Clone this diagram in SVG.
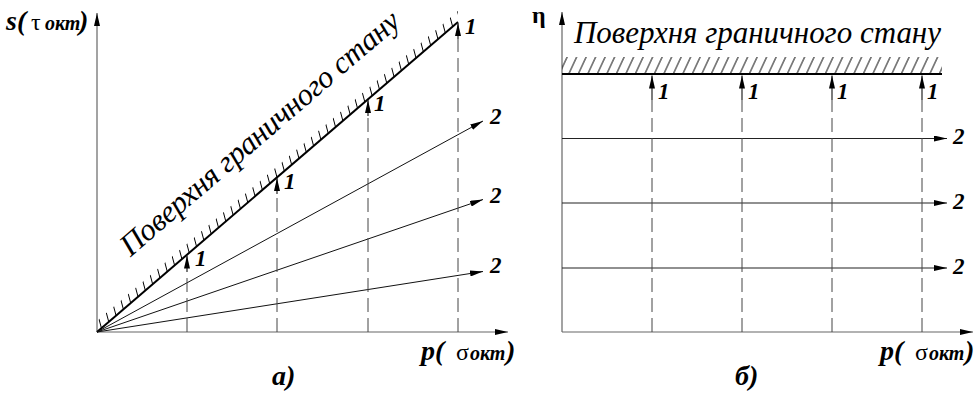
<svg xmlns="http://www.w3.org/2000/svg" width="979" height="396" viewBox="0 0 979 396">
<style>
.ax{stroke:#666;stroke-width:1.2;fill:none}
.bd{stroke:#000;stroke-width:2;fill:none}
.ray{stroke:#111;stroke-width:1;fill:none}
.dash{stroke:#444;stroke-width:1;fill:none;stroke-dasharray:14 6}
.sol{stroke:#222;stroke-width:1.2;fill:none}
text{font-family:'Liberation Serif','Times New Roman',serif;fill:#000}
.num{font-weight:bold;font-style:italic;font-size:23px}
.lbl{font-weight:bold;font-style:italic;font-size:28px}
.sym{font-weight:normal;font-style:normal;font-size:24px}
.sub{font-size:20px}
.surf{font-style:italic;font-size:31px}
</style>
<defs>
<marker id="ah" markerUnits="userSpaceOnUse" markerWidth="13" markerHeight="6" refX="13" refY="3" orient="auto">
<path d="M0,0 L13,3 L0,6 z" fill="#000"/>
</marker>
<pattern id="hatchA" width="9" height="30" patternUnits="userSpaceOnUse" patternTransform="skewX(15)">
<line x1="4.5" y1="-1" x2="4.5" y2="31" stroke="#000" stroke-width="1"/>
</pattern>
<pattern id="hatchB" width="9.5" height="30" patternUnits="userSpaceOnUse" patternTransform="skewX(-25)">
<line x1="4.75" y1="-1" x2="4.75" y2="31" stroke="#000" stroke-width="1"/>
</pattern>
</defs>

<g id="panel-a">
<g id="axes-a">
<line class="ax" x1="97" y1="332" x2="97" y2="13" marker-end="url(#ah)"/>
<line class="ax" x1="97" y1="332" x2="508" y2="332" marker-end="url(#ah)"/>
</g>
<g id="surface-a">
<polygon points="97,332 458,22 458,11 97,321" fill="url(#hatchA)"/>
<line class="bd" x1="97" y1="332" x2="458" y2="22"/>
<text class="surf" transform="translate(130.4,257.2) rotate(-40.66)" textLength="358" lengthAdjust="spacing">Поверхня граничного стану</text>
</g>
<g id="connectors-a">
<line class="ray" x1="97" y1="332" x2="483" y2="121" marker-end="url(#ah)"/>
<line class="ray" x1="97" y1="332" x2="483" y2="199.5" marker-end="url(#ah)"/>
<line class="ray" x1="97" y1="332" x2="483" y2="271.5" marker-end="url(#ah)"/>
<line class="dash" x1="187" y1="332" x2="187" y2="272"/>
<line class="sol" x1="187" y1="272" x2="187" y2="255.5" marker-end="url(#ah)"/>
<line class="dash" x1="277" y1="332" x2="277" y2="194"/>
<line class="sol" x1="277" y1="194" x2="277" y2="178" marker-end="url(#ah)"/>
<line class="dash" x1="368" y1="332" x2="368" y2="116"/>
<line class="sol" x1="368" y1="116" x2="368" y2="100" marker-end="url(#ah)"/>
<line class="dash" x1="458" y1="332" x2="458" y2="39"/>
<line class="sol" x1="458" y1="39" x2="458" y2="23" marker-end="url(#ah)"/>
</g>
<g id="labels-a">
<text class="num" x="195" y="266">1</text>
<text class="num" x="284" y="189">1</text>
<text class="num" x="374" y="111">1</text>
<text class="num" x="465" y="34">1</text>
<text class="num" x="490" y="124">2</text>
<text class="num" x="490" y="203">2</text>
<text class="num" x="490" y="273">2</text>
<text class="lbl" y="30"><tspan x="6">s(</tspan><tspan class="sym" x="31">τ</tspan><tspan class="sub" x="45">окт</tspan><tspan x="79">)</tspan></text>
<text class="lbl" y="360"><tspan x="421">p(</tspan><tspan class="sym" x="456">σ</tspan><tspan class="sub" x="470">окт</tspan><tspan x="506">)</tspan></text>
<text class="lbl" x="272" y="385">а)</text>
</g>
</g>

<g id="panel-b">
<g id="axes-b">
<line class="ax" x1="562" y1="332" x2="562" y2="12" marker-end="url(#ah)"/>
<line class="ax" x1="562" y1="332" x2="973" y2="332" marker-end="url(#ah)"/>
</g>
<g id="surface-b">
<rect x="562" y="57" width="380" height="16" fill="url(#hatchB)"/>
<line class="bd" x1="562" y1="74" x2="942" y2="74"/>
<text class="surf" x="574" y="43" textLength="367" lengthAdjust="spacing">Поверхня граничного стану</text>
</g>
<g id="connectors-b">
<line class="sol" x1="562" y1="138.5" x2="947" y2="138.5" marker-end="url(#ah)"/>
<line class="sol" x1="562" y1="203" x2="947" y2="203" marker-end="url(#ah)"/>
<line class="sol" x1="562" y1="268" x2="947" y2="268" marker-end="url(#ah)"/>
<line class="dash" x1="652" y1="332" x2="652" y2="100"/>
<line class="sol" x1="652" y1="100" x2="652" y2="75.5" marker-end="url(#ah)"/>
<line class="dash" x1="742" y1="332" x2="742" y2="100"/>
<line class="sol" x1="742" y1="100" x2="742" y2="75.5" marker-end="url(#ah)"/>
<line class="dash" x1="832" y1="332" x2="832" y2="100"/>
<line class="sol" x1="832" y1="100" x2="832" y2="75.5" marker-end="url(#ah)"/>
<line class="dash" x1="922" y1="332" x2="922" y2="100"/>
<line class="sol" x1="922" y1="100" x2="922" y2="75.5" marker-end="url(#ah)"/>
</g>
<g id="labels-b">
<text class="num" x="658" y="99">1</text>
<text class="num" x="748" y="99">1</text>
<text class="num" x="837" y="99">1</text>
<text class="num" x="927" y="99">1</text>
<text class="num" x="953" y="144">2</text>
<text class="num" x="953" y="209">2</text>
<text class="num" x="953" y="274">2</text>
<text class="lbl" x="532" y="23" style="font-style:normal;font-size:24px">η</text>
<text class="lbl" y="360"><tspan x="880">p(</tspan><tspan class="sym" x="915">σ</tspan><tspan class="sub" x="929">окт</tspan><tspan x="965">)</tspan></text>
<text class="lbl" x="735" y="385">б)</text>
</g>
</g>
</svg>
